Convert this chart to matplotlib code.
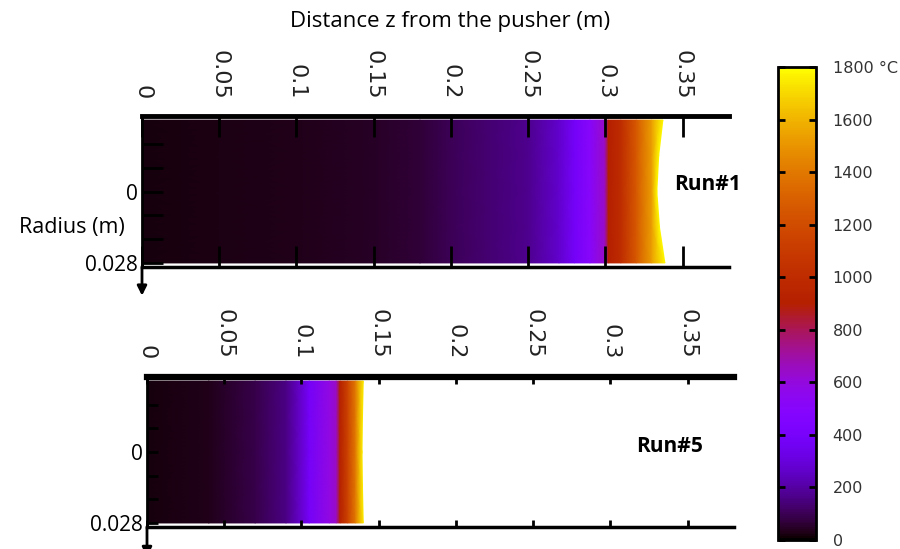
import numpy as np
import matplotlib
matplotlib.use("Agg")
import matplotlib.pyplot as plt
from matplotlib.colors import Normalize

# radial nodes (m) and temperature profiles along z (deg C)
r_nodes = [-0.028, -0.014, 0.0, 0.014, 0.028]

run1_z = [0.0, 0.05, 0.10, 0.15, 0.18, 0.20, 0.25, 0.27, 0.28, 0.29, 0.2995, 0.302, 0.31, 0.32, 0.33, 0.336]
run1_T = [20, 25, 32, 45, 70, 100, 170, 270, 380, 500, 640, 900, 1000, 1260, 1530, 1780]
run1_front = [0.3372, 0.3345, 0.3333, 0.3350, 0.3385]

run5_z = [0.0, 0.04, 0.07, 0.09, 0.105, 0.118, 0.1225, 0.125, 0.13, 0.135, 0.14]
run5_T = [20, 30, 90, 160, 380, 590, 650, 920, 1150, 1400, 1750]
run5_front = [0.1400, 0.1395, 0.1392, 0.1395, 0.1400]

x_ticks = [0, 0.05, 0.1, 0.15, 0.2, 0.25, 0.3, 0.35]
x_labels = ["0", "0.05", "0.1", "0.15", "0.2", "0.25", "0.3", "0.35"]
y_ticks = [-0.0187, -0.0093, 0, 0.0093, 0.0187, 0.028]
y_labels = ["", "", "0", "", "", "0.028"]
cb_ticks = [0, 200, 400, 600, 800, 1000, 1200, 1400, 1600, 1800]
cb_labels = ["0", "200", "400", "600", "800", "1000", "1200", "1400", "1600", "1800 °C"]

T_MIN, T_MAX = 0, 1800
cmap = "gnuplot"
norm = Normalize(T_MIN, T_MAX)

W, H = 900, 549
fig = plt.figure(figsize=(W / 100, H / 100), dpi=100)
ax1 = fig.add_axes([142 / W, 1 - 267 / H, 587 / W, 151 / H])
ax5 = fig.add_axes([147 / W, 1 - 527 / H, 587 / W, 150 / H])
cax = fig.add_axes([778 / W, 1 - 540 / H, 38 / W, 473 / H])


def draw_run(ax, z, T, front, xtick_len, ytick_len, top_lw, label_pad, arrow_tip):
    nr = len(r_nodes)
    X = np.tile(np.array(z, dtype=float), (nr, 1))
    X[:, -1] = front
    Y = np.repeat(np.array(r_nodes)[:, None], len(z), axis=1)
    C = np.tile(np.array(T, dtype=float), (nr, 1))
    ax.pcolormesh(X, Y, C, cmap=cmap, norm=norm, shading="gouraud")

    ax.set_xlim(0, 0.38)
    ax.set_ylim(0.0296, -0.0296)
    ax.spines["right"].set_visible(False)
    ax.spines["top"].set_linewidth(top_lw)
    ax.spines["bottom"].set_linewidth(2.5)
    ax.spines["left"].set_linewidth(2)

    ax.set_xticks(x_ticks)
    ax.set_xticklabels(x_labels)
    ax.tick_params(axis="x", direction="in", top=True, bottom=True,
                   labeltop=True, labelbottom=False, length=xtick_len,
                   width=2, pad=label_pad, labelrotation=-90, labelsize=16,
                   labelcolor="#222222")
    ax.set_yticks(y_ticks)
    ax.set_yticklabels(y_labels)
    ax.tick_params(axis="y", direction="in", left=True, right=False,
                   length=ytick_len, width=2, pad=3, labelsize=15,
                   labelfontfamily="Open Sans")
    for lab in ax.get_xticklabels(which="both"):
        lab.set_va("bottom")

    # radius axis arrow pointing down
    ax.annotate("", xy=(0, arrow_tip), xytext=(0, 0), xycoords="axes fraction",
                arrowprops=dict(arrowstyle="-|>", color="k", lw=2,
                                mutation_scale=14, shrinkA=0, shrinkB=0),
                annotation_clip=False)


draw_run(ax1, run1_z, run1_T, run1_front, 15, 15, 3.5, 12, -0.19)
draw_run(ax5, run5_z, run5_T, run5_front, 5, 8, 4.5, 13, -0.2)

sm = plt.cm.ScalarMappable(norm=norm, cmap=cmap)
cb = fig.colorbar(sm, cax=cax)
cb.set_ticks(cb_ticks)
cb.set_ticklabels(cb_labels)
cb.outline.set_linewidth(2)
cax.tick_params(direction="in", left=True, right=True, length=5, width=2,
                pad=12, labelsize=11.5, labelcolor="#333333")

fig.text(450 / W, 1 - 22 / H, "Distance z from the pusher (m)", ha="center",
         va="center", fontsize=16, family="Open Sans")
fig.text(72 / W, 1 - 228 / H, "Radius (m)", ha="center", va="center",
         fontsize=15.5, family="Open Sans")
fig.text(708 / W, 1 - 185 / H, "Run#1", ha="center", va="center",
         fontsize=15, family="Open Sans", weight="bold")
fig.text(670 / W, 1 - 446 / H, "Run#5", ha="center", va="center",
         fontsize=15, family="Open Sans", weight="bold")

fig.savefig("out.png", dpi=100)
